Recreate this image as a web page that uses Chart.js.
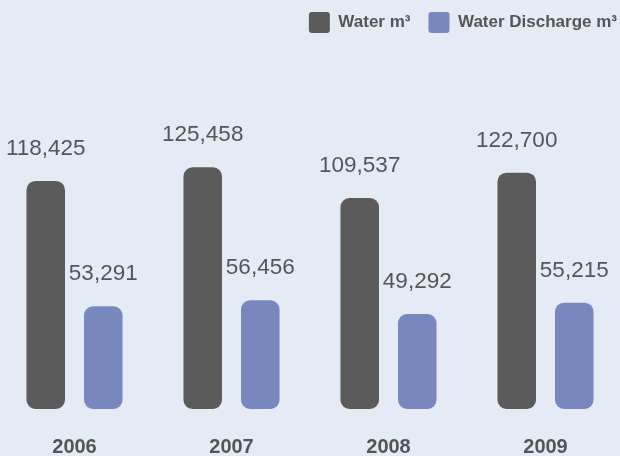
<!DOCTYPE html>
<html>
<head>
<meta charset="utf-8">
<script src="https://cdn.jsdelivr.net/npm/chart.js@4/dist/chart.umd.min.js"></script>
<style>
  html, body { margin: 0; padding: 0; background: #e5ebf4; overflow: hidden; }
  body { width: 620px; height: 456px; position: relative; }
  #wrap { position: absolute; left: -4px; top: 0; width: 639px; height: 456px; }
</style>
</head>
<body>
<div id="wrap"><canvas id="chart"></canvas></div>
<script>
const categories = ['2006', '2007', '2008', '2009'];
const waterValues = [118425, 125458, 109537, 122700];
const dischargeValues = [53291, 56456, 49292, 55215];
const seriesNames = ['Water m³', 'Water Discharge m³'];

const textColor = '#555557';
const fontFamily = '"Liberation Sans", Arial, Helvetica, sans-serif';

// Writes each bar's value above it
const valueLabels = {
  id: 'valueLabels',
  afterDatasetsDraw(chart) {
    const ctx = chart.ctx;
    ctx.save();
    ctx.font = '22.5px ' + fontFamily;
    ctx.fillStyle = textColor;
    ctx.textAlign = 'center';
    ctx.textBaseline = 'alphabetic';
    chart.data.datasets.forEach((ds, di) => {
      chart.getDatasetMeta(di).data.forEach((bar, i) => {
        ctx.fillText(ds.data[i].toLocaleString('en-US'), bar.x, bar.y - 26);
      });
    });
    ctx.restore();
  }
};

new Chart(document.getElementById('chart'), {
  type: 'bar',
  data: {
    labels: categories,
    datasets: [
      {
        label: seriesNames[0],
        data: waterValues,
        backgroundColor: '#5b5b5c',
        borderRadius: 9,
        borderSkipped: false
      },
      {
        label: seriesNames[1],
        data: dischargeValues,
        backgroundColor: '#7888be',
        borderRadius: 9,
        borderSkipped: false
      }
    ]
  },
  options: {
    responsive: true,
    maintainAspectRatio: false,
    animation: false,
    categoryPercentage: 0.733,
    barPercentage: 0.67,
    layout: { padding: { top: -6, left: 0, right: 0, bottom: -29 } },
    plugins: {
      tooltip: { enabled: false },
      legend: {
        position: 'top',
        align: 'end',
        labels: {
          boxWidth: 21,
          boxHeight: 21,
          padding: 18,
          useBorderRadius: true,
          borderRadius: 3,
          color: textColor,
          font: { family: fontFamily, size: 17, weight: 'bold' }
        }
      }
    },
    scales: {
      x: {
        grid: { display: false, drawTicks: false },
        border: { display: false },
        ticks: {
          color: textColor,
          padding: 26,
          font: { family: fontFamily, size: 20, weight: 'bold' }
        }
      },
      y: {
        position: 'right',
        min: 0,
        max: 190000,
        grid: { display: false, drawTicks: false },
        border: { display: false },
        ticks: { display: false },
        afterFit(scale) { scale.width = 11; }
      }
    }
  },
  plugins: [valueLabels]
});
</script>
</body>
</html>
